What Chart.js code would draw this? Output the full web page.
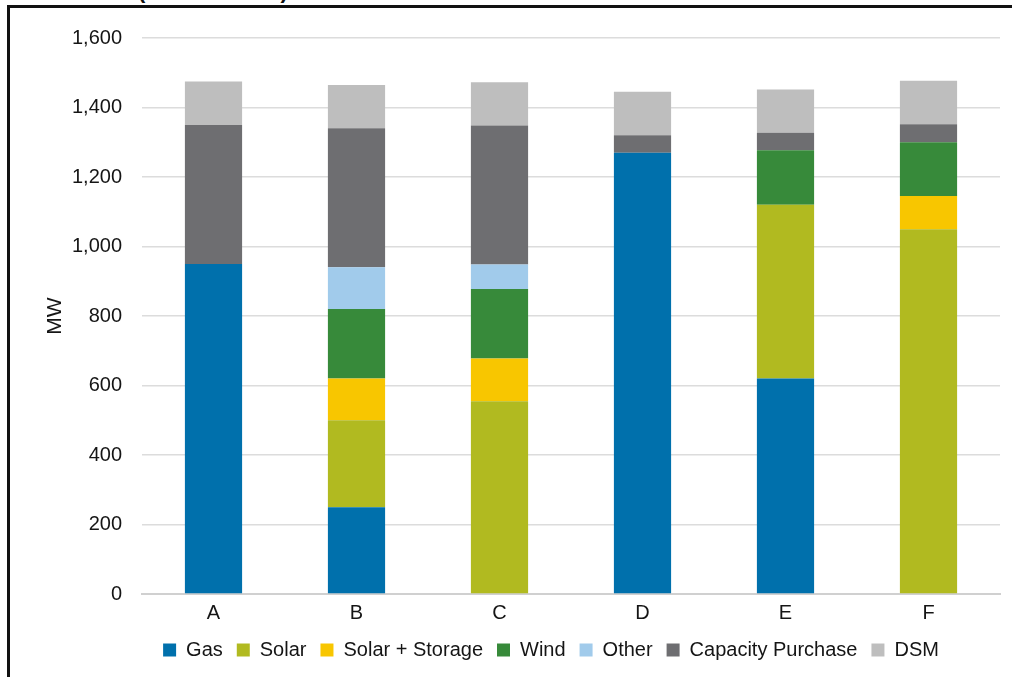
<!DOCTYPE html>
<html>
<head>
<meta charset="utf-8">
<script src="https://cdn.jsdelivr.net/npm/chart.js@4.4.0/dist/chart.umd.min.js"></script>
<style>
  html, body { margin: 0; padding: 0; background: #fff; overflow: hidden; }
  #wrap { position: relative; width: 1012px; height: 677px; }
  #mix-chart { position: absolute; left: 0; top: 0; }
  .frame { position: absolute; left: 7px; top: 5px; width: 1100px; height: 1000px;
           border: 3px solid #111; pointer-events: none; }
  .cut-title { position: absolute; left: 138px; top: -20px; font: bold 22px "Liberation Sans", Arial, sans-serif;
               line-height: 22px; color: #111; white-space: nowrap; }
</style>
</head>
<body>
<div id="wrap">
  <div class="cut-title">(NAMEPLATE)</div>
  <canvas id="mix-chart" width="1012" height="677"></canvas>
  <div class="frame"></div>
</div>
<script>
const categories = ["A", "B", "C", "D", "E", "F"];
const gas = [950, 250, 0, 1270, 620, 0];
const solar = [0, 250, 555, 0, 500, 1050];
const solarStorage = [0, 120, 123, 0, 0, 95];
const wind = [0, 200, 200, 0, 157, 155];
const other = [0, 120, 70, 0, 0, 0];
const capacityPurchase = [400, 400, 400, 50, 50, 52];
const dsm = [125, 125, 125, 125, 125, 125];

const yTicks = [0, 200, 400, 600, 800, 1000, 1200, 1400, 1600];

const fontFamily = '"Liberation Sans", Arial, sans-serif';
const textColor = "#151515";

function makeSet(label, data, color) {
    return {
        label: label,
        data: data,
        backgroundColor: color,
        borderWidth: 0,
        categoryPercentage: 0.4,
        barPercentage: 1.0,
    };
}

// legend in the original sits a little left of the plot centre
const shiftLegend = {
    id: "shiftLegend",
    afterLayout(chart) {
        chart.legend.left = 102;
        chart.legend.right = 1000;
    },
};

const mixChart = new Chart(document.getElementById("mix-chart"), {
    type: "bar",
    data: {
        labels: categories,
        datasets: [
            makeSet("Gas", gas, "#0070AC"),
            makeSet("Solar", solar, "#B1BA20"),
            makeSet("Solar + Storage", solarStorage, "#F8C600"),
            makeSet("Wind", wind, "#378A3A"),
            makeSet("Other", other, "#A1CBEB"),
            makeSet("Capacity Purchase", capacityPurchase, "#6E6E71"),
            makeSet("DSM", dsm, "#BEBEBE"),
        ],
    },
    plugins: [shiftLegend],
    options: {
        responsive: false,
        animation: false,
        layout: { padding: { left: 10, top: 38, right: 12, bottom: 7 } },
        plugins: {
            tooltip: { enabled: false },
            legend: {
                position: "bottom",
                fullSize: false,
                labels: {
                    color: textColor,
                    font: { family: fontFamily, size: 20 },
                    boxWidth: 13,
                    boxHeight: 13,
                    padding: 14,
                },
            },
        },
        scales: {
            x: {
                stacked: true,
                grid: { display: false, drawTicks: false },
                border: { display: true, color: "#D0D0D0", width: 2 },
                ticks: { color: textColor, font: { family: fontFamily, size: 20 }, padding: 7 },
                afterFit: (scale) => { scale.height = 32; },
            },
            y: {
                stacked: true,
                min: 0,
                max: 1600,
                afterBuildTicks: (scale) => { scale.ticks = yTicks.map((v) => ({ value: v })); },
                grid: { color: "#DCDCDC", lineWidth: 1.5, drawTicks: false },
                border: { display: false },
                ticks: {
                    color: textColor,
                    font: { family: fontFamily, size: 20 },
                    padding: 20,
                    callback: (value) => value.toLocaleString("en-US"),
                },
                title: {
                    display: true,
                    text: "MW",
                    color: textColor,
                    font: { family: fontFamily, size: 21 },
                    padding: { top: 33, bottom: 0 },
                },
                afterFit: (scale) => { scale.width = 132; },
            },
        },
    },
});
</script>
</body>
</html>
